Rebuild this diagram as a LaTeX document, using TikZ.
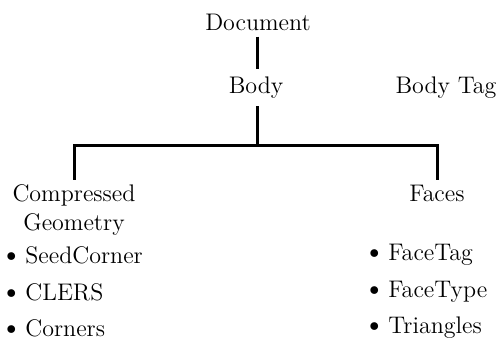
\documentclass[tikz,border=0pt]{standalone}
\usepackage{ccfonts}

\begin{document}
\begin{tikzpicture}[x=0.5pt, y=-0.5pt,
    every node/.style={font=\fontsize{12}{14.5}\selectfont, inner sep=2pt},
    link/.style={line width=1.5pt},
    item/.style={anchor=west, inner sep=0pt}
    ]
    \useasboundingbox (0,0) rectangle (498,343);
    \node (doc) at (258,22) {Document};
    \node (body) at (256,88) {Body};
    \node (bodytag) at (446,88) {Body Tag};
    \node[align=center] (geom) at (74,210) {Compressed\\Geometry};
    \node (faces) at (437,193) {Faces};
    % leaves
    \node[item] (seed) at (0,255) {{\Large\textbullet}\hspace{1.5pt}SeedCorner};
    \node[item] (clers) at (0,292) {{\Large\textbullet}\hspace{1.5pt}CLERS};
    \node[item] (corners) at (0,328) {{\Large\textbullet}\hspace{1.5pt}Corners};
    \node[item] (facetag) at (363,255) {{\Large\textbullet}\hspace{1.5pt}FaceTag};
    \node[item] (facetype) at (363,292) {{\Large\textbullet}\hspace{1.5pt}FaceType};
    \node[item] (triangles) at (363,328) {{\Large\textbullet}\hspace{1.5pt}Triangles};
    % connectors
    \coordinate (split) at (257,145);
    \draw[link] ([yshift=-1pt]doc.south -| split) -- ([yshift=2pt]body.north -| split);
    \draw[link] ([yshift=-1.5pt]body.south -| split) -- (split);
    \draw[link] (split) -| (geom.north);
    \draw[link] (split) -| (faces.north);
  \end{tikzpicture}
\end{document}
